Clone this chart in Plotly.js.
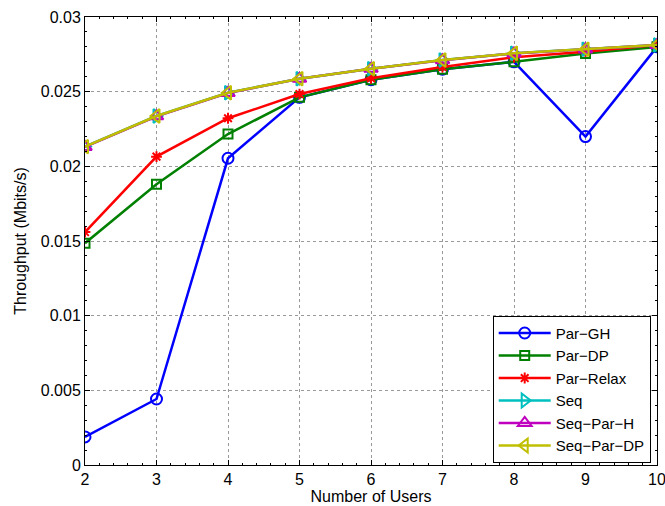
<!DOCTYPE html>
<html><head><meta charset="utf-8">
<script src="https://cdn.plot.ly/plotly-3.0.1.min.js"></script>
<style>html,body{margin:0;padding:0;background:#fff}#chart{width:665px;height:506px}</style>
</head><body><div id="chart"></div>
<script>
const users = [2,3,4,5,6,7,8,9,10];
const parGH    = [0.00188,0.00442,0.02054,0.02462,0.02580,0.02650,0.02700,0.02199,0.02800];
const parDP    = [0.01485,0.01880,0.02216,0.02462,0.02580,0.02650,0.02700,0.02755,0.02800];
const parRelax = [0.01560,0.02065,0.02322,0.02484,0.02590,0.02665,0.02730,0.02768,0.02812];
const seq      = [0.02132,0.02337,0.02493,0.02587,0.02654,0.02712,0.02757,0.02784,0.02813];
const seqParH  = [0.02130,0.02335,0.02491,0.02586,0.02653,0.02711,0.02756,0.02783,0.02812];
const seqParDP = [0.02132,0.02337,0.02493,0.02587,0.02654,0.02712,0.02757,0.02784,0.02813];
const xTicks = [2,3,4,5,6,7,8,9,10];
const yTicks = [0,0.005,0.01,0.015,0.02,0.025,0.03];
const yTickText = ['0','0.005','0.01','0.015','0.02','0.025','0.03'];

function tr(name, y, color, symbol, size){
  return {x: users, y: y, name: name, type:'scatter', mode:'lines+markers',
    line:{color:color, width:2.5},
    marker:{symbol:symbol, size:size, color:color, line:{color:color, width:2}}};
}
const data = [
  tr('Par\u2212GH', parGH, '#0000ff', 'circle-open', 11),
  tr('Par\u2212DP', parDP, '#008000', 'square-open', 9),
  tr('Par\u2212Relax', parRelax, '#ff0000', 'asterisk-open', 9),
  tr('Seq', seq, '#00bfbf', 'triangle-right-open', 12),
  tr('Seq\u2212Par\u2212H', seqParH, '#bf00bf', 'triangle-up-open', 12),
  tr('Seq\u2212Par\u2212DP', seqParDP, '#bfbf00', 'triangle-left-open', 12)
];
const axisCommon = {showline:true, mirror:'ticks', linecolor:'#000', linewidth:1,
  ticks:'inside', ticklen:5, tickcolor:'#000', zeroline:false,
  showgrid:true, gridcolor:'#999', griddash:'dot', gridwidth:1,
  tickfont:{family:'Liberation Sans, Arial, sans-serif', size:16, color:'#000'}};
const layout = {
  width:665, height:506,
  margin:{l:85, r:8, t:17, b:41},
  paper_bgcolor:'#fff', plot_bgcolor:'#fff',
  font:{family:'Liberation Sans, Arial, sans-serif', color:'#000'},
  xaxis: Object.assign({}, axisCommon, {range:[2,10], tickvals:xTicks, ticklabeloverflow:'allow',
    minor:{ticks:'inside', ticklen:2, tickcolor:'#000', dtick:0.2, showgrid:false},
    title:{text:'Number of Users', font:{size:16}, standoff:0}}),
  yaxis: Object.assign({}, axisCommon, {range:[0,0.03], tickvals:yTicks, ticktext:yTickText,
    minor:{ticks:'inside', ticklen:2, tickcolor:'#000', dtick:0.001, showgrid:false},
    title:{text:'Throughput (Mbits/s)', font:{size:16}, standoff:10}}),
  legend:{x:0.989, y:0.005, xanchor:'right', yanchor:'bottom', bgcolor:'#fff',
    bordercolor:'#000', borderwidth:1, font:{size:15}, tracegroupgap:0,
    itemwidth:52},
  showlegend:true
};
Plotly.newPlot('chart', data, layout, {displayModeBar:false, staticPlot:true});
</script></body></html>
